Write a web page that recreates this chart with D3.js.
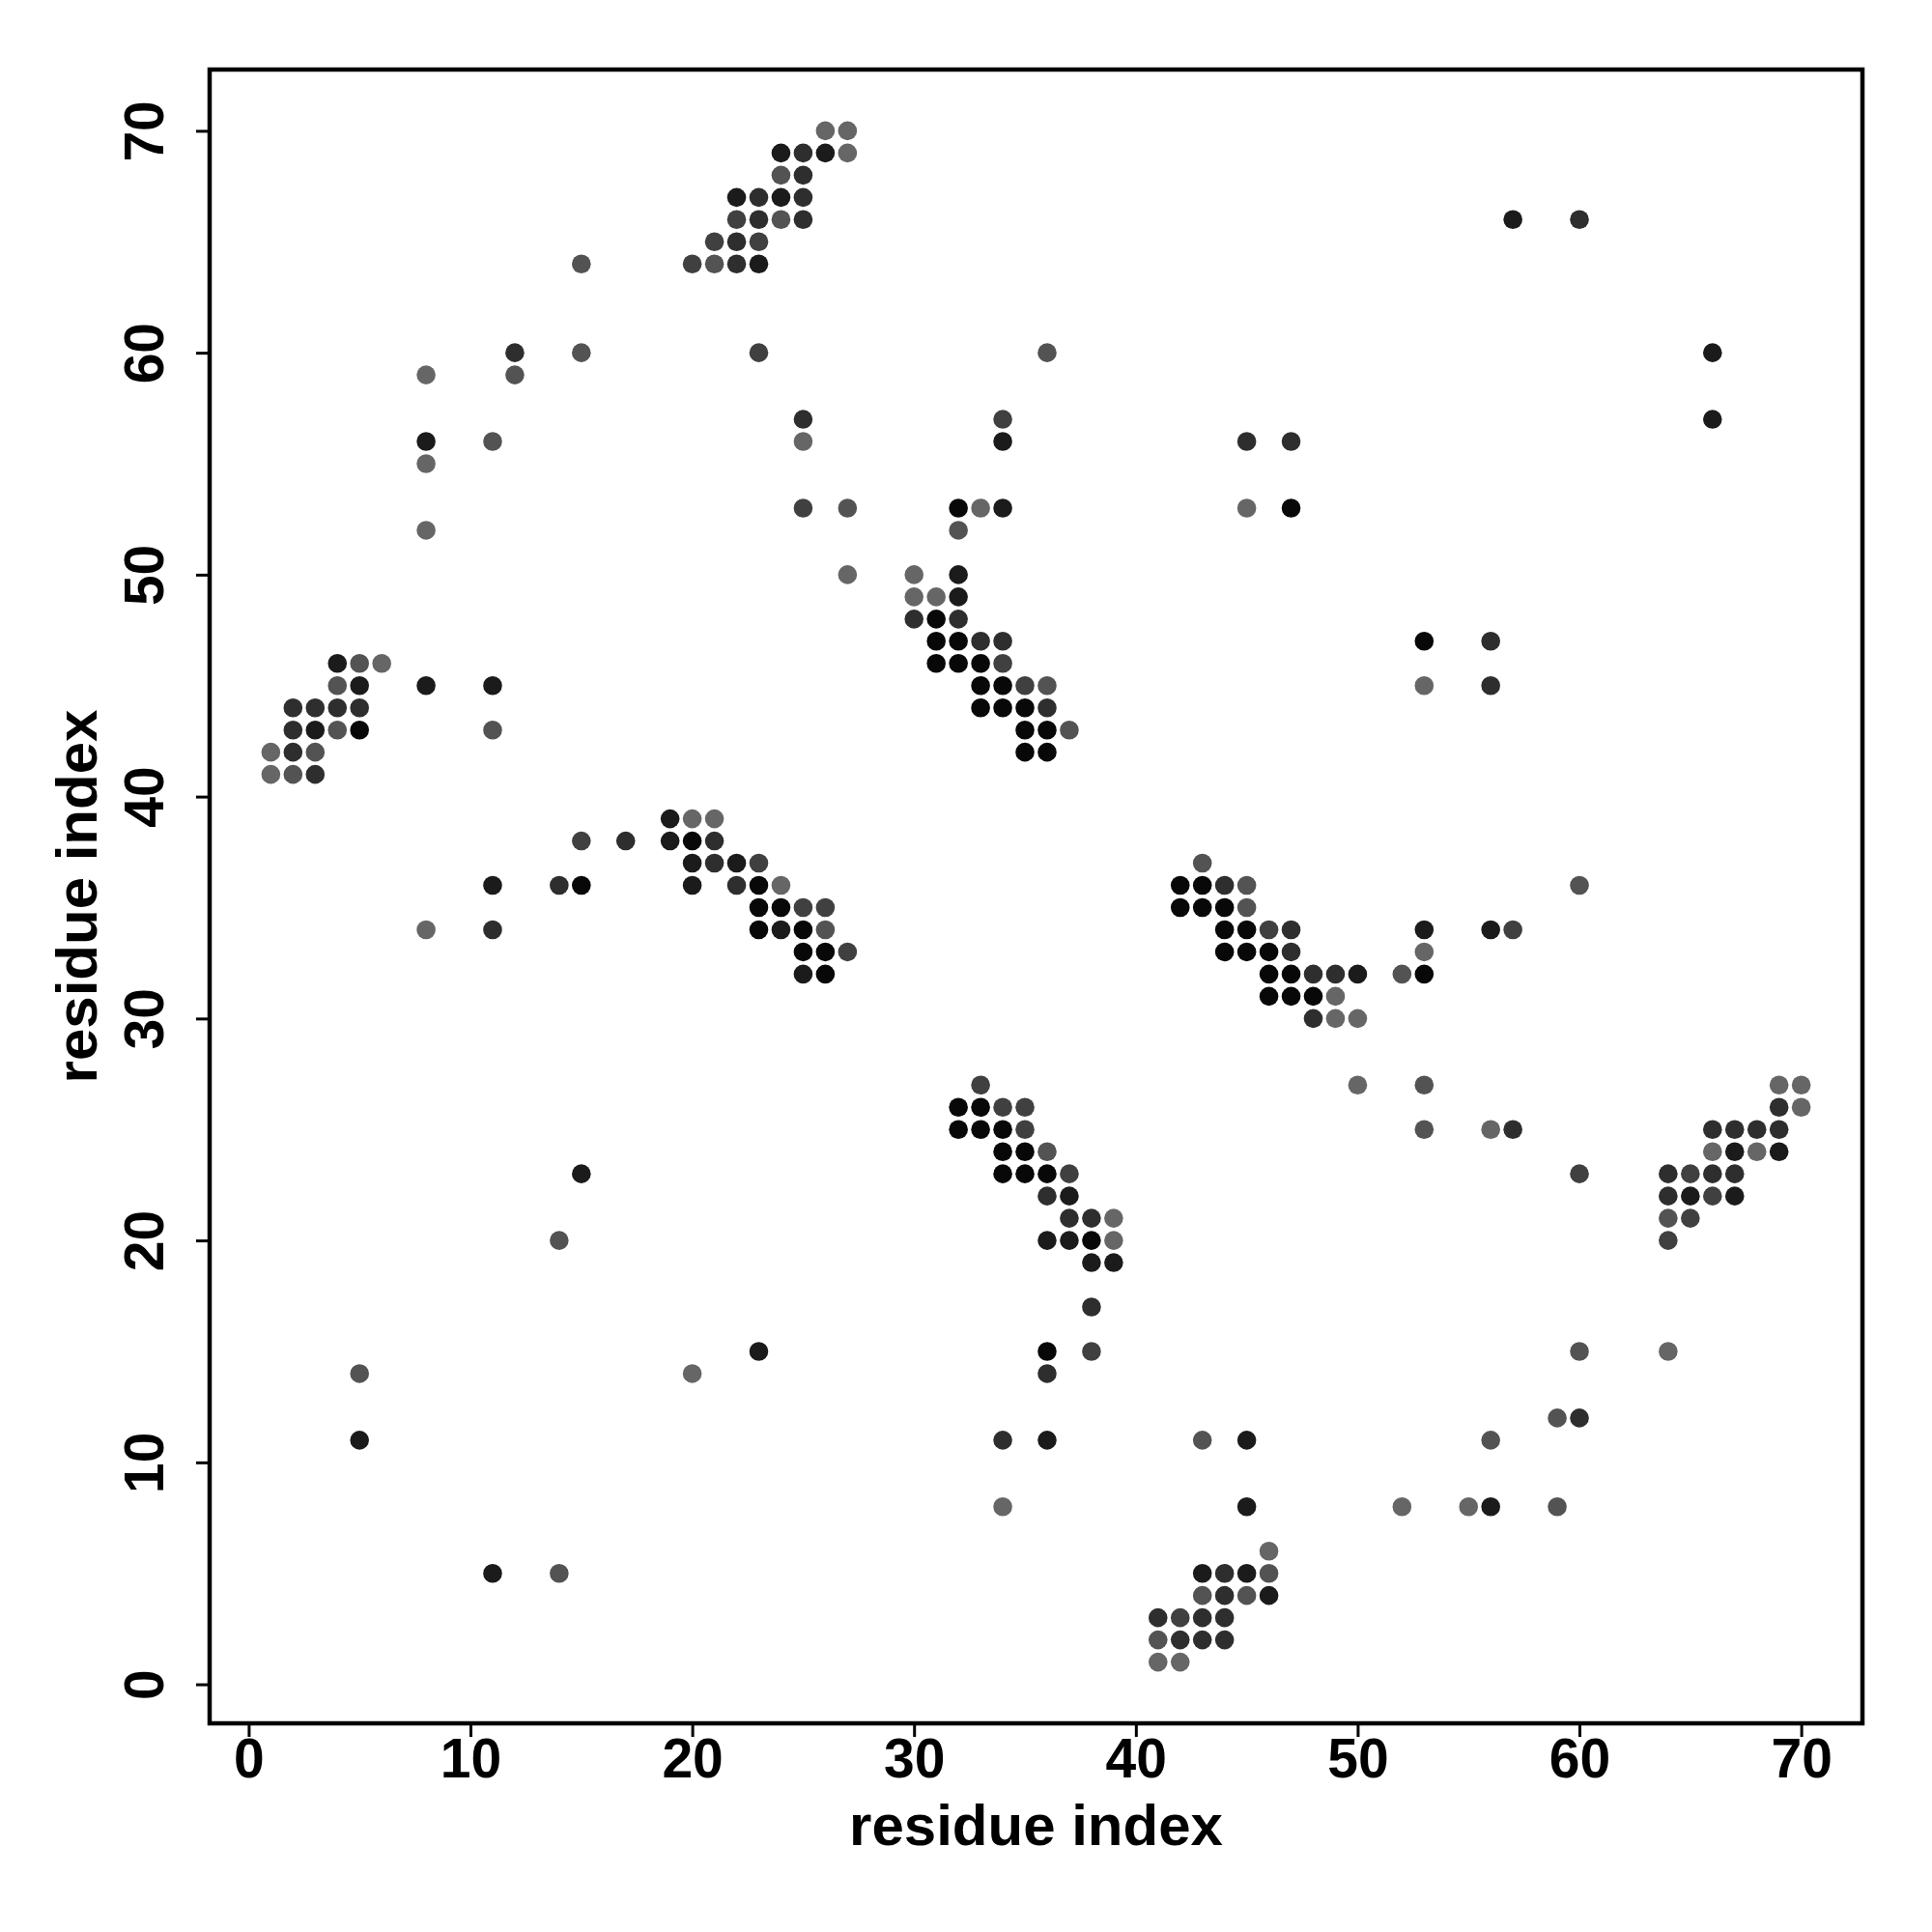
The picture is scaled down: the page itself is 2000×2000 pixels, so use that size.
<!DOCTYPE html>
<html><head><meta charset="utf-8">
<script src="https://cdn.jsdelivr.net/npm/d3@7/dist/d3.min.js"></script>
<style>html,body{margin:0;padding:0;background:#fff;}</style>
</head><body>
<svg id="chart" width="2000" height="2000"></svg>
<script>
// contact points: residue i (x), residue j (y), intensity level (1 = light grey ... 6 = black)
const xs = [26,27, 24,25,26,27, 24,25, 22,23,24,25, 22,23,24,25, 57,60, 21,22,23, 15,20,21,22,23,
 12,15,23,36,66, 8,12, 25,34,66, 8,11,25,34,45,47, 8, 25,27,32,33,34,45,47, 8,32, 27,30,32, 30,31,32, 30,31,32,
 31,32,33,34,53,56, 4,5,6,31,32,33,34, 4,5,8,11,33,34,35,36,53,56, 2,3,4,5,33,34,35,36, 2,3,4,5,11,35,36,37,
 1,2,3,35,36, 1,2,3,
 19,20,21, 15,17,19,20,21, 20,21,22,23,43, 11,14,15,20,22,23,24,42,43,44,45,60, 23,24,25,26,42,43,44,45,
 8,11,23,24,25,26,44,45,46,47,53,56,57, 25,26,27,44,45,46,47,53, 25,26,46,47,48,49,50,52,53, 46,47,48,49, 48,49,50,
 33,50,53,69,70, 32,33,34,35,69,70, 32,33,34,35,53,56,57,66,67,68,69, 34,35,36,66,67,68,69,
 15,34,35,36,37,60,64,65,66,67, 36,37,64,65,66,67, 37,38,39,64,65, 14,36,37,38,39,64, 38,39, 38,
 23,36,38,60,64, 5,20,36, 59,60, 5,34,36,43,45,56, 34,45,52,55,56,59, 46, 11,14,43,44,45,46, 43,44,45,46,
 41,42,43,44, 41,42,43,44, 41,42];
const ys = [70,70, 69,69,69,69, 68,68, 67,67,67,67, 66,66,66,66, 66,66, 65,65,65, 64,64,64,64,64,
 60,60,60,60,60, 59,59, 57,57,57, 56,56,56,56,56,56, 55, 53,53,53,53,53,53,53, 52,52, 50,50,50, 49,49,49, 48,48,48,
 47,47,47,47,47,47, 46,46,46,46,46,46,46, 45,45,45,45,45,45,45,45,45,45, 44,44,44,44,44,44,44,44, 43,43,43,43,43,43,43,43,
 42,42,42,42,42, 41,41,41,
 39,39,39, 38,38,38,38,38, 37,37,37,37,37, 36,36,36,36,36,36,36,36,36,36,36,36, 35,35,35,35,35,35,35,35,
 34,34,34,34,34,34,34,34,34,34,34,34,34, 33,33,33,33,33,33,33,33, 32,32,32,32,32,32,32,32,32, 31,31,31,31, 30,30,30,
 27,27,27,27,27, 26,26,26,26,26,26, 25,25,25,25,25,25,25,25,25,25,25, 24,24,24,24,24,24,24,
 23,23,23,23,23,23,23,23,23,23, 22,22,22,22,22,22, 21,21,21,21,21, 20,20,20,20,20,20, 19,19, 17,
 15,15,15,15,15, 14,14,14, 12,12, 11,11,11,11,11,11, 8,8,8,8,8,8, 6, 5,5,5,5,5,5, 4,4,4,4,
 3,3,3,3, 2,2,2,2, 1,1];
const levels = [1,1, 5,4,5,1, 2,4, 5,4,5,4, 3,4,2,4, 5,4, 3,4,3, 2,3,2,4,5,
 4,2,3,2,5, 1,2, 4,3,5, 5,2,1,5,4,4, 1, 3,2,6,1,5,1,6, 1,2, 1,1,5, 1,1,5, 4,6,4,
 6,6,4,4,6,4, 5,2,1,6,6,6,3, 2,5,5,5,6,6,3,2,1,4, 4,4,4,4,6,6,6,4, 4,5,2,6,2,6,6,2,
 1,4,2,6,6, 1,2,4,
 5,1,1, 3,4,5,6,4, 5,4,5,3,2, 5,4,6,5,4,6,1,6,6,4,2,2, 6,6,3,3,6,6,6,2,
 1,4,6,5,6,2,6,6,3,4,5,5,3, 6,6,3,6,6,6,4,1, 5,6,6,6,4,4,5,2,6, 6,6,6,1, 4,1,1,
 3,1,2,1,1, 6,6,3,3,4,1, 6,6,6,3,2,1,4,4,4,4,4, 6,6,2,1,5,1,5,
 5,6,6,6,3,3,4,3,4,4, 4,5,4,5,3,5, 4,4,1,2,3, 2,5,5,6,1,3, 5,5, 4,
 5,6,3,2,1, 2,1,4, 2,4, 5,4,5,2,5,2, 1,5,1,1,5,2, 1, 5,2,5,4,5,2, 2,4,2,5,
 4,3,4,4, 2,4,4,4, 1,1];
const xTicks = [0,10,20,30,40,50,60,70];
const yTicks = [0,10,20,30,40,50,60,70];
const xLabel = "residue index";
const yLabel = "residue index";

const svg = d3.select("#chart");
const L = 217, R = 1928, T = 72, B = 1784;
const font = "'Liberation Sans', Arial, Helvetica, sans-serif";

const x = d3.scaleLinear().domain([1 - 0.04*69, 70 + 0.04*69]).range([L, R]);
const y = d3.scaleLinear().domain([1 - 0.04*69, 70 + 0.04*69]).range([B, T]);
const grey = d3.scaleLinear().domain([1, 6]).range([102, 8]);

const pts = xs.map((v, i) => ({x: v, y: ys[i], l: levels[i]}));

svg.append("g").selectAll("circle").data(pts).join("circle")
  .attr("cx", d => x(d.x)).attr("cy", d => y(d.y)).attr("r", 9.8)
  .attr("fill", d => { const g = Math.round(grey(d.l)); return `rgb(${g},${g},${g})`; });

// axes
const xa = svg.append("g").attr("transform", `translate(0,${B})`)
  .call(d3.axisBottom(x).tickValues(xTicks).tickSize(14).tickPadding(14).tickFormat(d3.format("d")));
const ya = svg.append("g").attr("transform", `translate(${L},0)`)
  .call(d3.axisLeft(y).tickValues(yTicks).tickSize(14).tickPadding(14).tickFormat(d3.format("d")));
[xa, ya].forEach(a => {
  a.select(".domain").remove();
  a.selectAll("line").attr("stroke", "#000").attr("stroke-width", 3);
  a.selectAll("text").attr("font-family", font).attr("font-weight", "bold")
    .attr("font-size", 57).attr("fill", "#000");
});
xa.selectAll("text").attr("dy", "0.71em").attr("y", 16);
ya.selectAll("text")
  .attr("transform", "translate(-48,0) rotate(-90)")
  .attr("x", 0).attr("y", 0).attr("dy", 0).attr("text-anchor", "middle");

// box
svg.append("rect").attr("x", L).attr("y", T).attr("width", R - L).attr("height", B - T)
  .attr("fill", "none").attr("stroke", "#000").attr("stroke-width", 4.5);

// titles
svg.append("text").attr("x", (L + R) / 2).attr("y", 1910).attr("text-anchor", "middle")
  .attr("font-family", font).attr("font-weight", "bold").attr("font-size", 60).text(xLabel);
svg.append("text").attr("transform", `translate(100,${(T + B) / 2}) rotate(-90)`).attr("text-anchor", "middle")
  .attr("font-family", font).attr("font-weight", "bold").attr("font-size", 60).text(yLabel);
</script>
</body></html>
